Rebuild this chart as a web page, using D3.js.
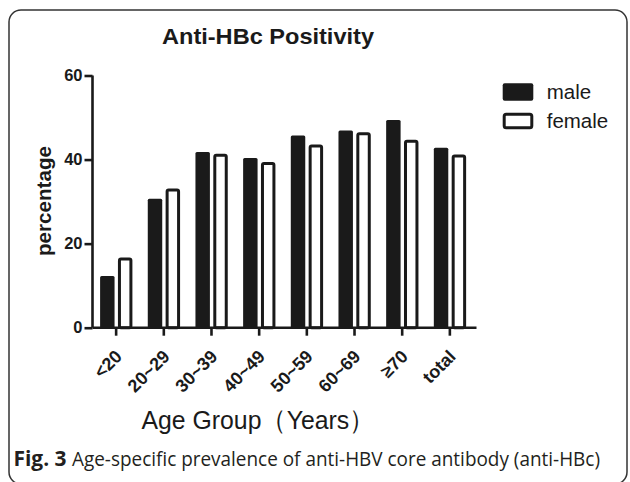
<!DOCTYPE html>
<html>
<head>
<meta charset="utf-8">
<script src="https://cdn.jsdelivr.net/npm/d3@7"></script>
<style>
  body { margin: 0; background: #fff; }
  svg { display: block; }
</style>
</head>
<body>
<svg width="630" height="482"></svg>
<script>
const ageGroups = ['<20', '20~29', '30~39', '40~49', '50~59', '60~69', '≥70', 'total'];
const maleValues = [12.3, 30.7, 41.8, 40.4, 45.7, 46.9, 49.4, 42.8];
const femaleValues = [16.7, 33.1, 41.4, 39.4, 43.6, 46.5, 44.7, 41.2];
const seriesNames = ['male', 'female'];
const yTicks = [0, 20, 40, 60];

const ink = '#1a1a1a';
const sans = 'Liberation Sans, Arial, sans-serif';
const svg = d3.select('svg');

// outer frame
svg.append('rect')
  .attr('x', 9).attr('y', 10)
  .attr('width', 618).attr('height', 474)
  .attr('rx', 12)
  .attr('fill', 'none')
  .attr('stroke', '#333')
  .attr('stroke-width', 1.5);

const x0 = d3.scaleBand()
  .domain(ageGroups)
  .range([92.3, 473.7])
  .paddingInner(0)
  .paddingOuter(0);

const x1 = d3.scaleBand()
  .domain(seriesNames)
  .range([7.8, 40.1])
  .paddingInner(0.19);

const y = d3.scaleLinear()
  .domain([0, 60])
  .range([327.7, 75.5]);

const rows = ageGroups.map((g, i) => ({ group: g, male: maleValues[i], female: femaleValues[i] }));

// bars
const groups = svg.append('g')
  .selectAll('g')
  .data(rows)
  .enter()
  .append('g')
  .attr('transform', (d) => `translate(${x0(d.group)},0)`);

const sw = 3;
groups.selectAll('rect')
  .data((d) => seriesNames.map((s) => ({ key: s, value: d[s] })))
  .enter()
  .append('rect')
  .attr('x', (d) => x1(d.key) + (d.key === 'female' ? sw / 2 : 0))
  .attr('y', (d) => y(d.value) + (d.key === 'female' ? sw / 2 : 0))
  .attr('width', (d) => x1.bandwidth() - (d.key === 'female' ? sw : 0))
  .attr('height', (d) => y(0) - y(d.value) - (d.key === 'female' ? sw / 2 : 0))
  .attr('rx', 1.5)
  .attr('fill', (d) => (d.key === 'male' ? ink : '#fff'))
  .attr('stroke', (d) => (d.key === 'male' ? 'none' : ink))
  .attr('stroke-width', sw);

// y axis
const yAxis = svg.append('g')
  .attr('transform', 'translate(92.5,0)')
  .call(d3.axisLeft(y).tickValues(yTicks).tickSize(8).tickPadding(2));
yAxis.select('.domain').attr('stroke', ink).attr('stroke-width', 2.6)
  .attr('d', `M0,${y(60)}V${y(0)}`);
yAxis.selectAll('.tick line').attr('stroke', ink).attr('stroke-width', 2.6);
yAxis.selectAll('.tick text')
  .attr('fill', ink)
  .attr('font-family', sans)
  .attr('font-weight', 'bold')
  .attr('font-size', 16.5);

// x axis
const xAxis = svg.append('g')
  .attr('transform', `translate(0,${y(0)})`)
  .call(d3.axisBottom(x0).tickSize(8));
xAxis.select('.domain').attr('stroke', ink).attr('stroke-width', 2.6)
  .attr('d', `M92.5,0H476.5`);
xAxis.selectAll('.tick line').attr('stroke', ink).attr('stroke-width', 2.6);
xAxis.selectAll('.tick text')
  .attr('fill', ink)
  .attr('font-family', sans)
  .attr('font-weight', 'bold')
  .attr('font-size', 18)
  .attr('text-anchor', 'end')
  .attr('dy', 0)
  .attr('y', 0)
  .attr('x', 0)
  .attr('transform', 'translate(7,30) rotate(-45)');

// title
svg.append('text')
  .attr('x', 268).attr('y', 43.5)
  .attr('text-anchor', 'middle')
  .attr('font-family', sans)
  .attr('font-weight', 'bold')
  .attr('font-size', 21.5)
  .attr('textLength', 212)
  .attr('lengthAdjust', 'spacingAndGlyphs')
  .attr('fill', ink)
  .text('Anti-HBc Positivity');

// y label
svg.append('text')
  .attr('transform', 'translate(51,201) rotate(-90)')
  .attr('text-anchor', 'middle')
  .attr('font-family', sans)
  .attr('font-weight', 'bold')
  .attr('font-size', 21)
  .attr('textLength', 110)
  .attr('lengthAdjust', 'spacingAndGlyphs')
  .attr('fill', ink)
  .text('percentage');

// x label
svg.append('text')
  .attr('x', 141.5).attr('y', 429)
  .attr('font-family', sans)
  .attr('font-size', 26.5)
  .attr('textLength', 233)
  .attr('lengthAdjust', 'spacingAndGlyphs')
  .attr('fill', ink)
  .text('Age Group（Years）');

// legend
const legend = svg.append('g').attr('transform', 'translate(502.7,83.3)');
seriesNames.forEach((s, i) => {
  const g = legend.append('g').attr('transform', `translate(0,${i * 29.5})`);
  g.append('rect')
    .attr('x', s === 'female' ? 1.5 : 0)
    .attr('y', s === 'female' ? 1.5 : 0)
    .attr('width', s === 'female' ? 27.6 : 30.6)
    .attr('height', s === 'female' ? 13.5 : 17.4)
    .attr('rx', 2)
    .attr('fill', s === 'male' ? ink : '#fff')
    .attr('stroke', s === 'male' ? 'none' : ink)
    .attr('stroke-width', sw);
  g.append('text')
    .attr('x', 44).attr('y', 15.5)
    .attr('font-family', sans)
    .attr('font-size', 20.5)
    .attr('fill', ink)
    .text(s);
});

// caption
svg.append('text')
  .attr('x', 13.5).attr('y', 465.5)
  .attr('font-family', 'Open Sans, Noto Sans, sans-serif')
  .attr('font-weight', 'bold')
  .attr('font-size', 20.5)
  .attr('textLength', 53)
  .attr('lengthAdjust', 'spacingAndGlyphs')
  .attr('fill', '#231f20')
  .text('Fig. 3');
svg.append('text')
  .attr('x', 72).attr('y', 465.5)
  .attr('font-family', 'Open Sans, Noto Sans, sans-serif')
  .attr('font-size', 19.5)
  .attr('textLength', 528)
  .attr('lengthAdjust', 'spacingAndGlyphs')
  .attr('fill', '#231f20')
  .text('Age-specific prevalence of anti-HBV core antibody (anti-HBc)');
</script>
</body>
</html>
